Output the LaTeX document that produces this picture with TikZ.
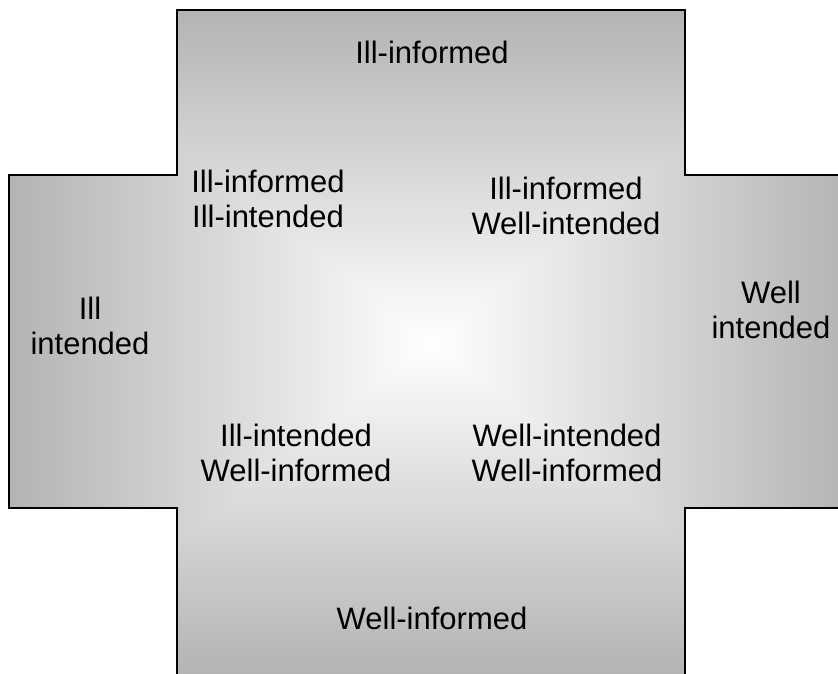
\documentclass[tikz,border=0pt]{standalone}
\usepackage{fontspec}
\setmainfont{Liberation Sans}
\begin{document}
\begin{tikzpicture}[x=1pt,y=-1pt,
  lbl/.style={font=\fontsize{31}{35}\selectfont, align=center, inner sep=0pt, text=black}]
\definecolor{rimgray}{RGB}{179,179,179}
\useasboundingbox (0,0) rectangle (838,673);
% outline of the cross
\def\crosspath{(177,10) -- (685,10) -- (685,175) -- (853,175) -- (853,508) -- (685,508) -- (685,675) -- (177,675) -- (177,508) -- (9,508) -- (9,175) -- (177,175) -- cycle}
% rectangular gradient from the centre: four shaded wedges clipped to the cross
\begin{scope}
  \clip \crosspath;
  \shade[top color=rimgray, bottom color=white] (8,9) -- (854,9) -- (431,343.5) -- cycle;
  \shade[top color=white, bottom color=rimgray] (8,676) -- (854,676) -- (431,341.5) -- cycle;
  \shade[left color=rimgray, right color=white] (8,9) -- (8,676) -- (432,342.5) -- cycle;
  \shade[left color=white, right color=rimgray] (854,9) -- (854,676) -- (430,342.5) -- cycle;
\end{scope}
\draw[line width=2.6pt, line join=miter] \crosspath;
% labels
\node[lbl] (n) at (432,52) {Ill-informed};
\node[lbl] (nw) at (268,199) {Ill-informed\\Ill-intended};
\node[lbl] (ne) at (566,206) {Ill-informed\\Well-intended};
\node[lbl] (w) at (90,326) {Ill\\intended};
\node[lbl] (e) at (771,310) {Well\\intended};
\node[lbl] (sw) at (296,453) {Ill-intended\\Well-informed};
\node[lbl] (se) at (567,453) {Well-intended\\Well-informed};
\node[lbl] (s) at (432,618) {Well-informed};
\end{tikzpicture}
\end{document}
